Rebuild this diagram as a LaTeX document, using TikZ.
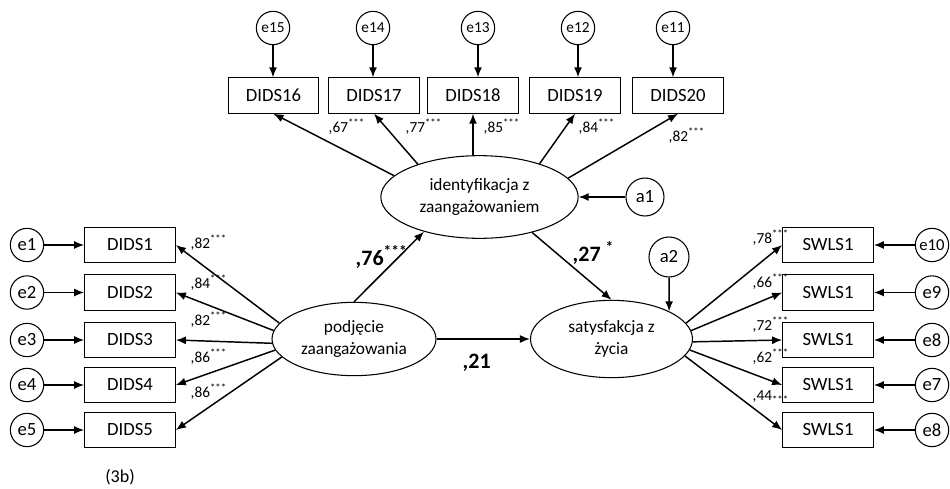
\documentclass[tikz,border=0pt]{standalone}
\usepackage{fontspec}
\setmainfont{Carlito}
\usetikzlibrary{arrows.meta,shapes.geometric}
\newcommand\signif{\textsuperscript{***}}
\begin{document}
\begin{tikzpicture}[x=0.75pt,y=-0.75pt,line width=1.1pt,
    >={Latex[length=7.5pt,width=6pt]},
    obs/.style={draw,line width=0.8pt,minimum width=68pt,minimum height=26.5pt,
      inner sep=0pt,font=\fontsize{14}{16}\selectfont},
    err/.style={draw,line width=0.8pt,circle,minimum size=25pt,inner sep=0pt,
      font=\fontsize{14}{16}\selectfont},
    small/.style={font=\fontsize{11.5}{13}\selectfont},
    mid/.style={font=\fontsize{12.5}{14}\selectfont},
    lat/.style={draw,line width=0.8pt,ellipse,align=center,inner sep=0pt,
      font=\fontsize{13}{16}\selectfont},
    wt/.style={anchor=west,inner sep=0pt,font=\fontsize{11.5}{13}\selectfont},
    coef/.style={anchor=west,inner sep=0pt,font=\bfseries\fontsize{16.5}{18}\selectfont}]
  \useasboundingbox (0,0) rectangle (950,489);
  % latent variables
  \node[lat,minimum width=148pt,minimum height=62pt] (idz) at (479.5,197)
    {identyfikacja z\\zaangażowaniem};
  \node[lat,minimum width=123pt,minimum height=55pt] (pz) at (354,339)
    {podjęcie\\zaangażowania};
  \node[lat,minimum width=121.5pt,minimum height=58pt] (sz) at (611.5,339)
    {satysfakcja z\\życia};
  \node[err,minimum size=28.5pt] (a1) at (645,197) {a1};
  \node[err,minimum size=30pt] (a2) at (669,257) {a2};
  \draw[->] (a1) -- (idz);
  \draw[->] (a2) -- (sz.north east);
  % top indicators
  \foreach \n/\e/\x/\ex in {16/15/273.5/273,17/14/374/373,18/13/473/478,
    19/12/575/578,20/11/678/673}{
    \node[obs] (d\n) at (\x,95.5) {DIDS\n};
    \node[err,small] (e\e) at (\ex,28) {e\e};
    \draw[->] (e\e) -- (e\e |- d\n.north);
  }
  \foreach \n/\a in {16/166,17/152,19/29,20/12}
    \draw[->] (idz.\a) -- (d\n.south);
  \draw[->] (idz.north -| d18.south) -- (d18.south);
  \foreach \n/\x/\y/\w in {16/328/127/67,17/405/127/77,18/483/127/85,
    19/578/127/84,20/668/136/82}
    \node[wt] (w\n) at (\x,\y) {,\w\signif};
  % left indicators
  \foreach \n/\y in {1/245,2/292.5,3/340,4/385,5/430}{
    \node[obs] (d\n) at (130,\y) {DIDS\n};
    \node[err] (e\n) at (27,\y) {e\n};
    \draw[->] (e\n) -- (d\n);
  }
  \foreach \n/\a in {1/168,2/174,3/183,4/188,5/194}
    \draw[->] (pz.\a) -- (d\n.east);
  \foreach \n/\y/\w in {1/243/82,2/283/84,3/320/82,4/357/86,5/392/86}
    \node[wt] (w\n) at (190,\y) {,\w\signif};
  % right indicators
  \foreach \n/\y/\e/\f in {1/245/10/mid,2/292.5/9/err,3/340/8/err,
    4/385/7/err,5/430/8/err}{
    \node[obs] (s\n) at (828,\y) {SWLS1};
    \node[err,\f] (r\n) at (932,\y) {e\e};
    \draw[->] (r\n) -- (s\n);
  }
  \foreach \n/\a in {1/12,2/6,3/358,4/352,5/347}
    \draw[->] (sz.\a) -- (s\n.west);
  \foreach \n/\y/\w in {1/238/78,2/282/66,3/325/72,4/357/62}
    \node[wt] (v\n) at (752,\y) {,\w\signif};
  \node[wt] (v5) at (752,397) {,44\textsubscript{***}};
  % structural paths
  \draw[->] (pz.north) -- (idz.212);
  \draw[->] (idz.326) -- (sz.north);
  \draw[->] (pz) -- (sz);
  \node[coef] (b1) at (355,257) {,76\signif};
  \node[coef] (b2) at (572,253) {,27 \textsuperscript{*}};
  \node[coef] (b3) at (462,363) {,21};
  \node[font=\fontsize{13.5}{15}\selectfont] (lab) at (120,477) {(3b)};
\end{tikzpicture}
\end{document}
